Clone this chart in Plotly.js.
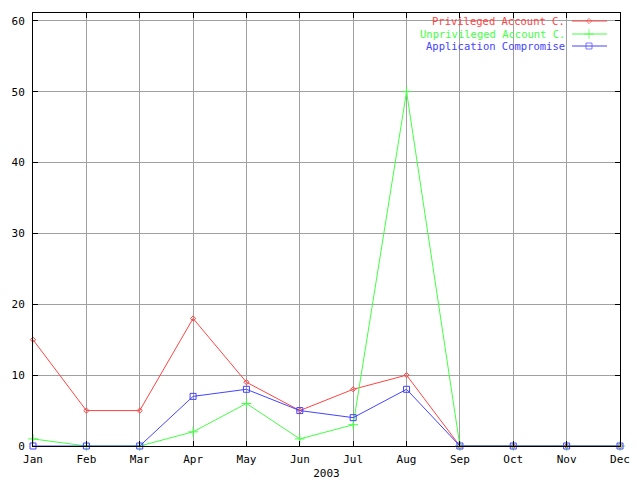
<!DOCTYPE html>
<html><head><meta charset="utf-8">
<script src="https://cdn.plot.ly/plotly-3.0.1.min.js"></script>
<style>body{margin:0}#chart{width:640px;height:480px}</style>
</head><body><div id="chart"></div>
<script>
const months = ['Jan','Feb','Mar','Apr','May','Jun','Jul','Aug','Sep','Oct','Nov','Dec'];
const privileged = [15,5,5,18,9,5,8,10,0,0,0,0];
const unprivileged = [1,0,0,2,6,1,3,50,0,0,0,0];
const application = [0,0,0,7,8,5,4,8,0,0,0,0];
const seriesNames = ['Privileged Account C.','Unprivileged Account C.','Application Compromise'];
const colors = ['#ff4444','#44ff44','#4444ff'];
const symbols = ['diamond-open','cross-thin-open','square-open'];
const msizes = [4,7,6];
const xTitle = '2003';
const yTicks = [0,10,20,30,40,50,60];

const font = 'DejaVu Sans Mono, monospace';
const idx = months.map((m,i)=>i);
const data = [privileged, unprivileged, application].map((v,k)=>({
  x: idx, y: v, type:'scatter', mode:'lines+markers', name: seriesNames[k],
  line:{color:colors[k], width:1},
  marker:{symbol:symbols[k], size:msizes[k], color:colors[k], line:{color:colors[k], width:1}},
  showlegend:false, cliponaxis:false
}));

// legend (gnuplot style: text on the left, sample on the right)
const legRows = [21, 34, 46];
const annotations = [], shapes = [];
seriesNames.forEach((n,k)=>{
  const yp = legRows[k];
  annotations.push({xref:'paper', yref:'paper', x:(566-33)/587, y:(446-yp)/433, xanchor:'right', yanchor:'middle',
    text:n, showarrow:false, borderpad:0, font:{family:font, size:10.5, color:colors[k]}});
  shapes.push({type:'line', xref:'paper', yref:'paper', x0:(572-33)/587, x1:(607-33)/587, y0:(446-yp)/433, y1:(446-yp)/433,
    line:{color:colors[k], width:1}});
});
const legTrace = {
  x:[589,589,589], y:legRows, xaxis:'x2', yaxis:'y2', type:'scatter', mode:'markers', showlegend:false, hoverinfo:'skip',
  marker:{symbol:symbols, size:msizes, color:colors, line:{color:colors, width:1}}
};
data.push(legTrace);

const layout = {
  width:640, height:480,
  margin:{l:33, r:20, t:13, b:34},
  paper_bgcolor:'#fff', plot_bgcolor:'#fff',
  font:{family:font, size:11, color:'#000'},
  showlegend:false,
  xaxis:{range:[0,11], tickvals:idx, ticktext:months, showgrid:true, gridcolor:'#a0a0a0', gridwidth:1,
    zeroline:false, showline:true, linecolor:'#000', linewidth:1, mirror:'ticks', ticks:'inside', ticklen:5, tickcolor:'#000',
    ticklabelstandoff:3,
    title:{text:xTitle, font:{family:font, size:11}, standoff:5}, tickfont:{family:font, size:11}},
  yaxis:{range:[0,61.1], tickvals:yTicks, showgrid:true, gridcolor:'#a0a0a0', gridwidth:1,
    zeroline:false, showline:true, linecolor:'#000', linewidth:1, mirror:'ticks', ticks:'inside', ticklen:5, tickcolor:'#000',
    ticklabelstandoff:5,
    tickfont:{family:font, size:11}},
  xaxis2:{overlaying:'x', range:[33,620], visible:false, fixedrange:true},
  yaxis2:{overlaying:'y', range:[446,13], visible:false, fixedrange:true},
  annotations, shapes
};
Plotly.newPlot('chart', data, layout, {staticPlot:true});
</script></body></html>
